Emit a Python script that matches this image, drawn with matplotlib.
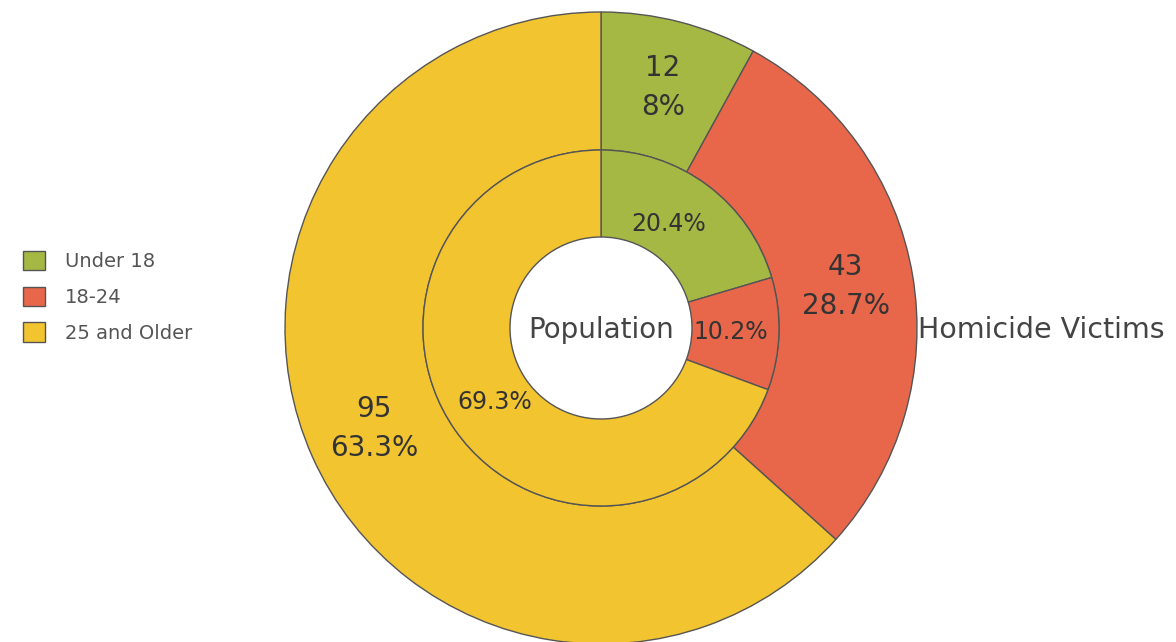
import matplotlib.pyplot as plt

# data
groups = ['Under 18', '18-24', '25 and Older']
victims = [12, 43, 95]
population_pct = [20.4, 10.2, 69.3]
colors = ['#a5b843', '#e8674a', '#f2c430']

def victim_label(pct):
    total = sum(victims)
    n = round(pct * total / 100.0)
    return f'{n}\n{round(pct, 1):g}%'

pop_labels = iter([f'{v}%' for v in population_pct])

fig = plt.figure(figsize=(11.76, 6.42), dpi=100)
ax = fig.add_axes([0, 0, 1, 1])

cx, cy = 601, 314
r_out = 316
r_mid = 178
r_in = 91

wedges, _, outer_txt = ax.pie(victims, colors=colors, startangle=90, counterclock=False,
                              radius=r_out, center=(cx, cy), autopct=victim_label,
                              pctdistance=0.785,
                              wedgeprops=dict(width=r_out - r_mid, edgecolor='#555555', linewidth=1))
for t in outer_txt:
    t.set_fontsize(20)
    t.set_color('#333333')
    t.set_linespacing(1.5)

_, _, inner_txt = ax.pie(population_pct, colors=colors, startangle=90, counterclock=False,
                         radius=r_mid, center=(cx, cy), autopct=lambda p: next(pop_labels),
                         pctdistance=0.73,
                         wedgeprops=dict(width=r_mid - r_in, edgecolor='#555555', linewidth=1))
for t in inner_txt:
    t.set_fontsize(17)
    t.set_color('#333333')
inner_txt[0].set_x(inner_txt[0].get_position()[0] - 10)

ax.text(cx, cy - 2, 'Population', ha='center', va='center', fontsize=20, color='#444444')
ax.text(918, cy - 2, 'Homicide Victims', ha='left', va='center', fontsize=20.5, color='#444444')

ax.set_xlim(0, 1176)
ax.set_ylim(0, 642)
ax.set_aspect('equal')
ax.axis('off')

leg = ax.legend(wedges, groups, loc='upper left', bbox_to_anchor=(13 / 1176, 1 - 241 / 642),
                frameon=False, fontsize=14, borderpad=0, handlelength=1.15, handleheight=1.15,
                handletextpad=1.0, labelspacing=0.8, labelcolor='#555555')

fig.savefig('out.png', dpi=100)
